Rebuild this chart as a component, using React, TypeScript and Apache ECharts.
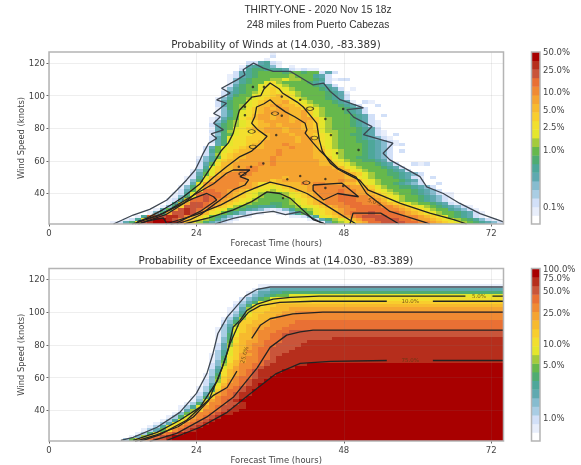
import React, { useEffect, useRef } from "react";
import * as echarts from "echarts";

// ---- reference texts ----
const suptitle = ["THIRTY-ONE - 2020 Nov 15 18z", "248 miles from Puerto Cabezas"];
const titleTop = "Probability of Winds at (14.030, -83.389)";
const titleBottom = "Probability of Exceedance Winds at (14.030, -83.389)";
const xName = "Forecast Time (hours)";
const yName = "Wind Speed (knots)";
const xTicks = [0, 24, 48, 72];
const yTicks = [40, 60, 80, 100, 120];
const xRange = [0, 74];
const yRange = [21.3, 126.7];

// ---- colour classes (0..j) ----
const classColors = [
  "#ffffff", "#e8eefb", "#d2e0f8", "#a9cde4", "#86bccf", "#5fa9b0", "#4ea79a", "#4fac72", "#66b84c", "#a4cb3c",
  "#e4e62c", "#f2df2e", "#f8ce2d", "#f7ba2e", "#f5a431", "#f08a33", "#e97034", "#c9553a", "#b62e1c", "#a80000",
];
const classChars = "0123456789abcdefghij";
// top-panel reading of the low classes: the wings are greener than teal
const topLowClassMap = [0, 1, 2, 4, 5, 6, 7, 8, 8, 9];

// colour bars
const cbTopTicks = [20, 17.9, 15.3, 13.2, 11.3, 8.6, 1.95];
const cbTopLabels = ["50.0%", "25.0%", "10.0%", "5.0%", "2.5%", "1.0%", "0.1%"];
const cbBottomTicks = [20, 18.9, 17.4, 14.8, 11.3, 8.8, 2.7];
const cbBottomLabels = ["100.0%", "75.0%", "50.0%", "25.0%", "10.0%", "5.0%", "1.0%"];

// ---- top panel: [wind bin, first hour, class per hour] ----
const topRows: [number, number, string][] = [
  [125, 36, "1"],
  [123, 36, "2"],
  [119, 32, "224521"],
  [117, 31, "145553101"],
  [115, 31, "2566555421011"],
  [113, 30, "24567787678677542"],
  [111, 29, "12456788789877542"],
  [109, 29, "135678899a99876521"],
  [107, 29, "135678ab988776542"],
  [105, 29, "24678abba988776542"],
  [103, 28, "135678abcba988776542"],
  [101, 28, "245679abcbba987876541"],
  [99, 28, "24678abbcdcb988786542"],
  [97, 27, "135789abcddcba98876542"],
  [95, 27, "24678abcdddecba98876541"],
  [93, 27, "24679abddeeddcba98876542"],
  [91, 27, "13689bcdedeeddcba98776542"],
  [89, 27, "1357abcdeeeeddeca98776542"],
  [87, 27, "1357abdeedeeddeca987876542"],
  [85, 26, "12468bcdeedeeddeeca98776542"],
  [83, 26, "13579abcdeeeedeedca987765421"],
  [81, 26, "24689abcddedeeeddca987765421"],
  [79, 26, "1468abcddeeedeeddca987876542"],
  [77, 26, "2469abbcdeeedeeedda9987765421"],
  [75, 26, "1367abbccdeeedeedcba987665421"],
  [73, 26, "246abbcccdeeeedeecba9877654321"],
  [71, 26, "246abbccdeeeeedeedba98776654321"],
  [69, 26, "146abbcddeeefeeeedba98787654321"],
  [67, 25, "247abbcdddeeeefeeedca9887765432"],
  [65, 25, "258abcddeeeefeeeeeddba988765432"],
  [63, 25, "249bcddeeeeefeeeeeddba987765432"],
  [61, 24, "1358bcddeeeefeeeeeeddca987665432"],
  [59, 24, "235acddeeeeefeeeeeeeddba98766542"],
  [57, 24, "247bddeeeefefeeeeeeeddcba98776542"],
  [55, 24, "25acddeeffeeeeeeeeeeeeddba98776542"],
  [53, 23, "136acddefffeeeeeeeeeeeeeddba98776542"],
  [51, 23, "247adeffffeeeeeeeeeeeeeeeddca987665432"],
  [49, 22, "125adeffffeeeeeedeeeeeeeeeddba987765421"],
  [47, 22, "136bdfffffeeeecdeeeeeeeeefeedba98776542"],
  [45, 22, "14aefffffeedbbcddddfeffeeeddcba98765432"],
  [43, 21, "136befffffeedbbabcdddeffffffeedca987665432"],
  [41, 21, "247bggffeedbbaa9abcddeffffgffeedba987765432"],
  [39, 20, "125aggggfedcba98889abcdefffgffeedcba987654321"],
  [37, 20, "136bghggfedcba98779abcdefffgggffedcba987654321"],
  [35, 19, "125agghgfedcba9877789abcdeffgggfffedba987654321"],
  [33, 19, "15aehhgfedcba98776679abcdefffgggfffedcba98765421"],
  [31, 18, "136chhhgfdcb97665556789aabcdeffgggggffedcba98654321"],
  [29, 17, "148ehihgecba87654321235789abcdeffgggggffedcba98754321"],
  [27, 16, "136ehhihfdba865321100113578abcdefggghggggfedcba98765421"],
  [25, 14, "15ghhiihfdca865321100000011235abcdefghhhhgggffedcba865421"],
  [23, 12, "125bhjjihfdcb9753210000000000012469abdegghhhhggfeedcba9865321"],
  [21, 10, "1246bhijjjigdb964321000000000000001479abdegghhhhggffedcba9865432"],
];

// sparse single cells outside the outer contour: [hour, wind bin, class]
const topSpeckleHours = [47, 48, 49, 51, 52, 53, 54, 56, 57, 57, 59, 60, 61, 62, 63, 65, 44, 35, 41];
const topSpeckleWinds = [109, 109, 103, 95, 95, 93, 87, 75, 69, 65, 57, 57, 57, 49, 45, 39, 113, 121, 115];
const topSpeckleClasses = [2, 2, 1, 2, 1, 2, 2, 2, 2, 2, 2, 1, 2, 2, 2, 1, 2, 1, 2];

// ---- bottom panel: [wind bin, first hour, class per hour; last class runs on to the right edge] ----
const bottomRows: [number, number, string][] = [
  [115, 34, "1"],
  [113, 33, "1445"],
  [111, 32, "1355667"],
  [109, 32, "2456788a"],
  [107, 31, "24578ab"],
  [105, 30, "1357abcc"],
  [103, 30, "247abccdd"],
  [101, 29, "1259cccddde"],
  [99, 29, "136accdddeef"],
  [97, 29, "247bcdddef"],
  [95, 28, "1369ccddef"],
  [93, 28, "247ccddeffffg"],
  [91, 28, "359cddeefffg"],
  [89, 27, "136acdeefffg"],
  [87, 27, "136acdefffggh"],
  [85, 27, "137bddeffggh"],
  [83, 27, "147cddeffgghhhhhhhhi"],
  [81, 27, "148bdeefggghhhhi"],
  [79, 27, "259cdeffgghhhhi"],
  [77, 27, "25acdefgghhhhi"],
  [75, 27, "36acdffgghhhi"],
  [73, 26, "136aceefgghhi"],
  [71, 26, "137bceffgghi"],
  [69, 26, "148bdeffghhi"],
  [67, 26, "249cdffgghiiiiiij"],
  [65, 26, "25aceffghiiiiij"],
  [63, 26, "36bdefghiiiij"],
  [61, 25, "137bdefghiiij"],
  [59, 25, "148cdfgghiij"],
  [57, 25, "249cefghiij"],
  [55, 25, "25adffghij"],
  [53, 24, "136befghiij"],
  [51, 24, "137cfgghij"],
  [49, 24, "25aefghiij"],
  [47, 23, "137cfgghij"],
  [45, 23, "14aefghij"],
  [43, 22, "137cffghhij"],
  [41, 21, "136aefghhiij"],
  [39, 21, "159cffghiij"],
  [37, 20, "148bffghiij"],
  [35, 19, "137aefghij"],
  [33, 18, "136adfghij"],
  [31, 17, "135acfghij"],
  [29, 16, "136acfghij"],
  [27, 15, "1358cfghij"],
  [25, 14, "137bfghij"],
  [23, 13, "149dghij"],
  [21, 12, "38bfghhij"],
];

// ---- contours, as [hour, knots] ----
const topOuter: number[][] = [
  [10.5, 21.3], [13.7, 26.8], [16.4, 30.3], [19.2, 36], [20.8, 42], [22.4, 48.3], [23.8, 54.4], [24.6, 60.5], [25.1, 64.6], [26, 70.8],
  [27.3, 73.8], [26.4, 76.5], [28.4, 79], [26.8, 83], [27.9, 87], [26.8, 89], [28.9, 95.3], [27.3, 97.4], [29.5, 101.5], [28.1, 104.5], [30.6, 109.6],
  [31.9, 112.7], [31.6, 115.8], [33.3, 119.9], [34.9, 116.8], [36.5, 114.8], [39.3, 114.8], [39.8, 113.7], [43, 106.5], [44.7, 107.6], [45.8, 102.5],
  [47.4, 97.5], [51.2, 92.4], [48.5, 91.4], [49.6, 86.8], [52.6, 81], [51.2, 76], [56, 70.8], [54.4, 64.7], [55.5, 60.6], [60.4, 50.3],
  [61.5, 44.1], [64.2, 40], [66.9, 33.9], [70.2, 27.7], [74, 22.6],
];
const topOuterLower: number[][] = [[27, 21.3], [30, 24.8], [33.8, 27.8], [36.5, 29], [38.5, 27], [40.9, 28.8], [44.1, 22.6], [45, 21.3]];
const topC1Upper: number[][] = [
  [14, 21.3], [16.5, 26], [18.5, 30], [20.3, 34], [21.9, 38], [24.6, 46], [26.7, 58], [28, 66], [29.2, 71], [30, 77],
  [30.4, 83], [31, 91], [32, 95], [33, 99], [34.5, 100], [35, 104], [36, 107.7], [37.5, 104], [38, 101.6], [40.4, 96],
  [41.4, 93], [42.5, 88], [43.6, 83], [44, 73], [44.5, 66], [45.8, 58.6], [47, 55], [48.5, 52], [50.6, 48], [52, 42],
  [54, 39], [57.2, 34], [62, 28], [65.9, 24], [68, 21.3],
];
const topC1Lower: number[][] = [[22, 21.3], [26, 25], [30, 30], [33, 35], [35.5, 41], [37.6, 40], [39.3, 37], [43, 24], [45, 21.3]];
const topC2Upper: number[][] = [
  [14.5, 21.3], [19, 27], [22, 34], [25, 44], [26.8, 50], [28.9, 56.4], [31.1, 62.6], [33, 66], [34.5, 71], [35.5, 75],
  [34, 79], [33, 83], [33.5, 87], [33.8, 93], [35, 95], [36, 97.4], [37, 94], [38.5, 90], [40, 87], [41.7, 83],
  [42, 79], [41.7, 77], [43, 71], [44, 66.7], [45.7, 60.5], [47, 55.6], [50, 50], [51.7, 40], [55.5, 29], [61, 22.6], [62, 21.3],
];
const topC2Lower: number[][] = [[19, 21.3], [24, 27], [28, 33], [32, 41], [36, 47], [39.3, 44], [42, 40], [45, 33], [48, 26], [50, 21.3]];
const topC3Left: number[][] = [
  [13.5, 21.3], [14.8, 22.7], [18.6, 27.8], [24, 40], [26.8, 46], [28.9, 52.4], [30, 54.4], [32.7, 54.4], [31.1, 50.3], [32.5, 48.3],
  [31.9, 45.2], [30, 42.2], [27.5, 35], [24.6, 26.8], [23, 24], [20.8, 21.3],
];
const topC3Right: number[][] = [[43, 45.2], [47.7, 46.3], [50.4, 38], [47, 40], [44.7, 36], [43, 42], [43, 45.2]];
const topC4Left: number[][] = [
  [14.3, 21.3], [14.5, 23], [17.5, 26], [23.5, 37], [25.7, 40], [26.8, 38], [27.3, 36], [24.6, 29], [20.8, 22], [19.8, 21.3],
];
const topC4Right: number[][] = [[49, 21.3], [49.5, 28], [54, 28], [57, 21.3]];
const topC5: number[][] = [[14.6, 21.3], [16, 23], [18.6, 25], [19.2, 21.3]];
const topIslandHours = [36.8, 33, 33.2, 43.2, 31.5, 41.9, 42.5];
const topIslandWinds = [89, 78, 68.6, 74, 52, 46.6, 92];
const topDotHours = [30.9, 32.9, 34.9, 38.8, 40.9, 45, 45, 47.9, 46.9, 45.9, 37, 37.9, 45, 40.9, 37.9, 35, 33.2, 31.9, 31.9, 38.1, 47.9, 50.4];
const topDotWinds = [56.4, 56.4, 58.4, 48.7, 50.7, 48.9, 43.4, 44.6, 64.7, 75.8, 75.8, 87.7, 85.7, 97.4, 99.4, 105.3, 105.3, 88, 93.2, 37.2, 91.8, 66.7];

const bottomOuter: number[][] = [
  [11.7, 21.7], [13.7, 23.5], [17.6, 29.7], [21.3, 38.8], [24, 50.4], [25.7, 62.5], [26.7, 74.8], [27.5, 87], [29, 97], [32, 110],
  [33.9, 114], [36, 115.4], [48, 115.4], [74, 115.4],
];
const bottomC5: number[][] = [
  [13.7, 21.7], [17.6, 26.6], [21.3, 34], [24.6, 42], [27.4, 58], [29, 75], [30, 91], [31.1, 95], [32.2, 101], [33.9, 105],
  [36.5, 108], [39.3, 109], [44, 109.8], [67.8, 109.8],
];
const bottomC5End: number[][] = [[72.2, 109.8], [74, 109.8]];
const bottomC10: number[][] = [
  [14, 21], [17.5, 25], [21, 30], [23.5, 36], [26, 46], [28.2, 66], [29.5, 81], [30.9, 93], [32.5, 100], [34.4, 104],
  [37.6, 106], [43, 106.7], [55, 106.7],
];
const bottomC10End: number[][] = [[62.5, 106.7], [74, 106.7]];
const bottomC25Low: number[][] = [[14.8, 21], [18, 25], [22.4, 34], [26.7, 49], [29, 54], [30.6, 64]];
const bottomC25High: number[][] = [[33, 84], [34.4, 92], [36, 96], [39.7, 99], [44.6, 100], [74, 100]];
const bottomC50: number[][] = [
  [16.4, 21], [20.8, 26], [25.7, 36], [30, 48], [33.9, 66], [36, 78.5], [38.7, 86], [40.9, 88], [43, 89], [74, 89],
];
const bottomC75: number[][] = [
  [19.2, 21.7], [24.6, 29.7], [29, 38.8], [32.7, 50], [37, 62.5], [40.9, 68.7], [45.8, 70], [55, 70.5],
];
const bottomC75End: number[][] = [[62.5, 70.5], [74, 70.5]];

// contour labels: hour, knots, rotation, text
const topLabels: [number, number, number, string][] = [
  [53, 34.8, -20, "5.0%"],
  [21.7, 35, 32, "10.0%"],
  [16.7, 26, 25, "25.0%"],
];
const bottomLabels: [number, number, number, string][] = [
  [70, 109.8, 0, "5.0%"],
  [58.8, 106.7, 0, "10.0%"],
  [31.8, 74, 75, "25.0%"],
  [58.8, 70.5, 0, "75.0%"],
];

function cellsFrom(rows: [number, number, string][], runOn: boolean, low?: number[]) {
  const cells: number[][] = [];
  const cls = (ch: string) => {
    const c = classChars.indexOf(ch);
    return low && c < low.length ? low[c] : c;
  };
  rows.forEach(([w, start, s]) => {
    for (let i = 0; i < s.length; i++) {
      const c = cls(s[i]);
      if (c > 0 && start + i < xRange[1]) cells.push([start + i, w, c]);
    }
    if (runOn) {
      const c = cls(s[s.length - 1]);
      for (let h = start + s.length; h < xRange[1]; h++) cells.push([h, w, c]);
    }
  });
  return cells;
}

const renderCell = (params: any, api: any) => {
  const h = api.value(0), w = api.value(1), c = api.value(2);
  const a = api.coord([h, w]);
  const b = api.coord([h + 1, w + 2]);
  const cs = params.coordSys;
  const x0 = Math.max(cs.x, Math.round(a[0]));
  const x1 = Math.min(cs.x + cs.width, Math.round(b[0]));
  const y0 = Math.min(cs.y + cs.height, Math.round(a[1]));
  const y1 = Math.max(cs.y, Math.round(b[1]));
  return { type: "rect", shape: { x: x0, y: y1, width: x1 - x0, height: y0 - y1 }, style: { fill: classColors[c] } };
};

const renderBar = (params: any, api: any) => {
  const c = api.value(0);
  const a = api.coord([0, c]);
  const b = api.coord([1, c + 1]);
  return { type: "rect", shape: { x: a[0], y: b[1], width: b[0] - a[0], height: a[1] - b[1] + 0.4 }, style: { fill: classColors[c] } };
};

const textColor = "#444";
const font = "DejaVu Sans";

function panelAxes(gi: number) {
  return {
    x: {
      type: "value", gridIndex: gi, min: xRange[0], max: xRange[1], z: 3,
      name: xName, nameLocation: "middle", nameGap: 15,
      nameTextStyle: { fontFamily: font, fontSize: 8.4, color: textColor },
      axisLine: { show: false },
      axisTick: { show: true, length: 2.5, lineStyle: { color: "#666" }, customValues: xTicks },
      axisLabel: { fontFamily: font, fontSize: 8.5, color: textColor, margin: 4, customValues: xTicks, formatter: (v: number) => String(v) },
      splitLine: { show: true, lineStyle: { color: "rgba(120,120,120,0.13)", width: 1 } },
    },
    y: {
      type: "value", gridIndex: gi, min: yRange[0], max: yRange[1], z: 3,
      name: yName, nameLocation: "middle", nameGap: 24, nameMoveOverlap: false,
      nameTextStyle: { fontFamily: font, fontSize: 8.4, color: textColor },
      axisLine: { show: false },
      axisTick: { show: true, length: 2.5, lineStyle: { color: "#666" }, customValues: yTicks },
      axisLabel: { fontFamily: font, fontSize: 8.5, color: textColor, margin: 4, customValues: yTicks, formatter: (v: number) => String(v) },
      splitLine: { show: true, lineStyle: { color: "rgba(120,120,120,0.13)", width: 1 } },
    },
  };
}

function barAxes(gi: number, ticks: number[], labels: string[]) {
  return {
    x: { type: "value", gridIndex: gi, min: 0, max: 1, show: false },
    y: {
      type: "value", gridIndex: gi, min: 0, max: 20, position: "right",
      axisLine: { show: false },
      axisTick: { show: true, length: 2, lineStyle: { color: "#555" }, customValues: ticks },
      splitLine: { show: false },
      axisLabel: {
        fontFamily: font, fontSize: 8.5, color: textColor, margin: 3, customValues: ticks,
        formatter: (v: number) => labels[ticks.indexOf(v)] ?? "",
      },
    },
  };
}

function contour(gi: number, data: number[][], color = "#222", width = 1.3) {
  return {
    type: "line", xAxisIndex: gi, yAxisIndex: gi, data, showSymbol: false, symbol: "none", z: 6, silent: true,
    lineStyle: { color, width }, clip: true,
  };
}

function labelSeries(gi: number, rows: [number, number, number, string][]) {
  return {
    type: "scatter", xAxisIndex: gi, yAxisIndex: gi, symbolSize: 0, z: 8, silent: true,
    data: rows.map(([h, w, rot, text]) => ({
      value: [h, w],
      label: { show: true, position: "inside", rotate: rot, formatter: text, fontFamily: font, fontSize: 5.5, color: "#5a3a14" },
    })),
  };
}

export default function App() {
  const ref = useRef<HTMLDivElement>(null);
  useEffect(() => {
    document.body.style.margin = "0";
    const chart = echarts.init(ref.current!, null, { renderer: "svg" });
    const speckles = topSpeckleHours.map((h, i) => [h, topSpeckleWinds[i], topSpeckleClasses[i]]);
    const a0 = panelAxes(0), a1 = panelAxes(1);
    const b0 = barAxes(2, cbTopTicks, cbTopLabels), b1 = barAxes(3, cbBottomTicks, cbBottomLabels);
    const barData = classColors.map((_, i) => [i]);
    const frame = (x: number, y: number, width: number, height: number) => ({
      type: "rect", z: 20, silent: true, shape: { x, y, width, height },
      style: { fill: "none", stroke: "#b4b4b4", lineWidth: 1.5 },
    });
    const sup = (text: string, top: number) => ({
      text, left: 313, top, textAlign: "center",
      textStyle: { fontFamily: "Liberation Sans", fontSize: 10.2, fontWeight: "normal", color: "#333" },
    });
    const ttl = (text: string, top: number) => ({
      text, left: 271, top, textAlign: "center",
      textStyle: { fontFamily: font, fontSize: 10.3, fontWeight: "normal", color: "#333" },
    });
    chart.setOption({
      animation: false,
      backgroundColor: "#fff",
      title: [sup(suptitle[0], -1), sup(suptitle[1], 14), ttl(titleTop, 33.5), ttl(titleBottom, 250)],
      grid: [
        { left: 49, top: 52, width: 454.5, height: 172 },
        { left: 49, top: 268.5, width: 454.5, height: 172.5 },
        { left: 531.5, top: 52, width: 8.5, height: 172 },
        { left: 531.5, top: 268.5, width: 8.5, height: 172.5 },
      ],
      xAxis: [a0.x, a1.x, b0.x, b1.x],
      yAxis: [a0.y, a1.y, b0.y, b1.y],
      graphic: [frame(49, 52, 454.5, 172), frame(49, 268.5, 454.5, 172.5), frame(531.5, 52, 8.5, 172), frame(531.5, 268.5, 8.5, 172.5)],
      series: [
        { type: "custom", xAxisIndex: 0, yAxisIndex: 0, renderItem: renderCell, data: cellsFrom(topRows, false, topLowClassMap).concat(speckles), encode: { x: 0, y: 1 }, z: 2, silent: true },
        { type: "custom", xAxisIndex: 1, yAxisIndex: 1, renderItem: renderCell, data: cellsFrom(bottomRows, true), encode: { x: 0, y: 1 }, z: 2, silent: true },
        { type: "custom", xAxisIndex: 2, yAxisIndex: 2, renderItem: renderBar, data: barData, silent: true },
        { type: "custom", xAxisIndex: 3, yAxisIndex: 3, renderItem: renderBar, data: barData, silent: true },
        contour(0, topOuter, "#3d4650"), contour(0, topOuterLower, "#3d4650"),
        contour(0, topC1Upper), contour(0, topC1Lower), contour(0, topC2Upper), contour(0, topC2Lower),
        contour(0, topC3Left), contour(0, topC3Right), contour(0, topC4Left), contour(0, topC4Right), contour(0, topC5),
        {
          type: "scatter", xAxisIndex: 0, yAxisIndex: 0, symbol: "circle", symbolSize: 2.5, z: 7, silent: true,
          itemStyle: { color: "#222" }, data: topDotHours.map((h, i) => [h, topDotWinds[i]]),
        },
        {
          type: "scatter", xAxisIndex: 0, yAxisIndex: 0, symbol: "circle", symbolSize: [7, 3.5], z: 7, silent: true,
          itemStyle: { color: "rgba(0,0,0,0)", borderColor: "#222", borderWidth: 1 }, data: topIslandHours.map((h, i) => [h, topIslandWinds[i]]),
        },
        contour(1, bottomOuter, "#3d4650"),
        contour(1, bottomC5), contour(1, bottomC5End), contour(1, bottomC10), contour(1, bottomC10End),
        contour(1, bottomC25Low), contour(1, bottomC25High), contour(1, bottomC50), contour(1, bottomC75), contour(1, bottomC75End),
        labelSeries(0, topLabels),
        labelSeries(1, bottomLabels),
      ],
    });
    return () => chart.dispose();
  }, []);
  return <div ref={ref} style={{ position: "fixed", left: 0, top: 0, width: 581, height: 465, filter: "blur(0.5px)" }} />;
}
